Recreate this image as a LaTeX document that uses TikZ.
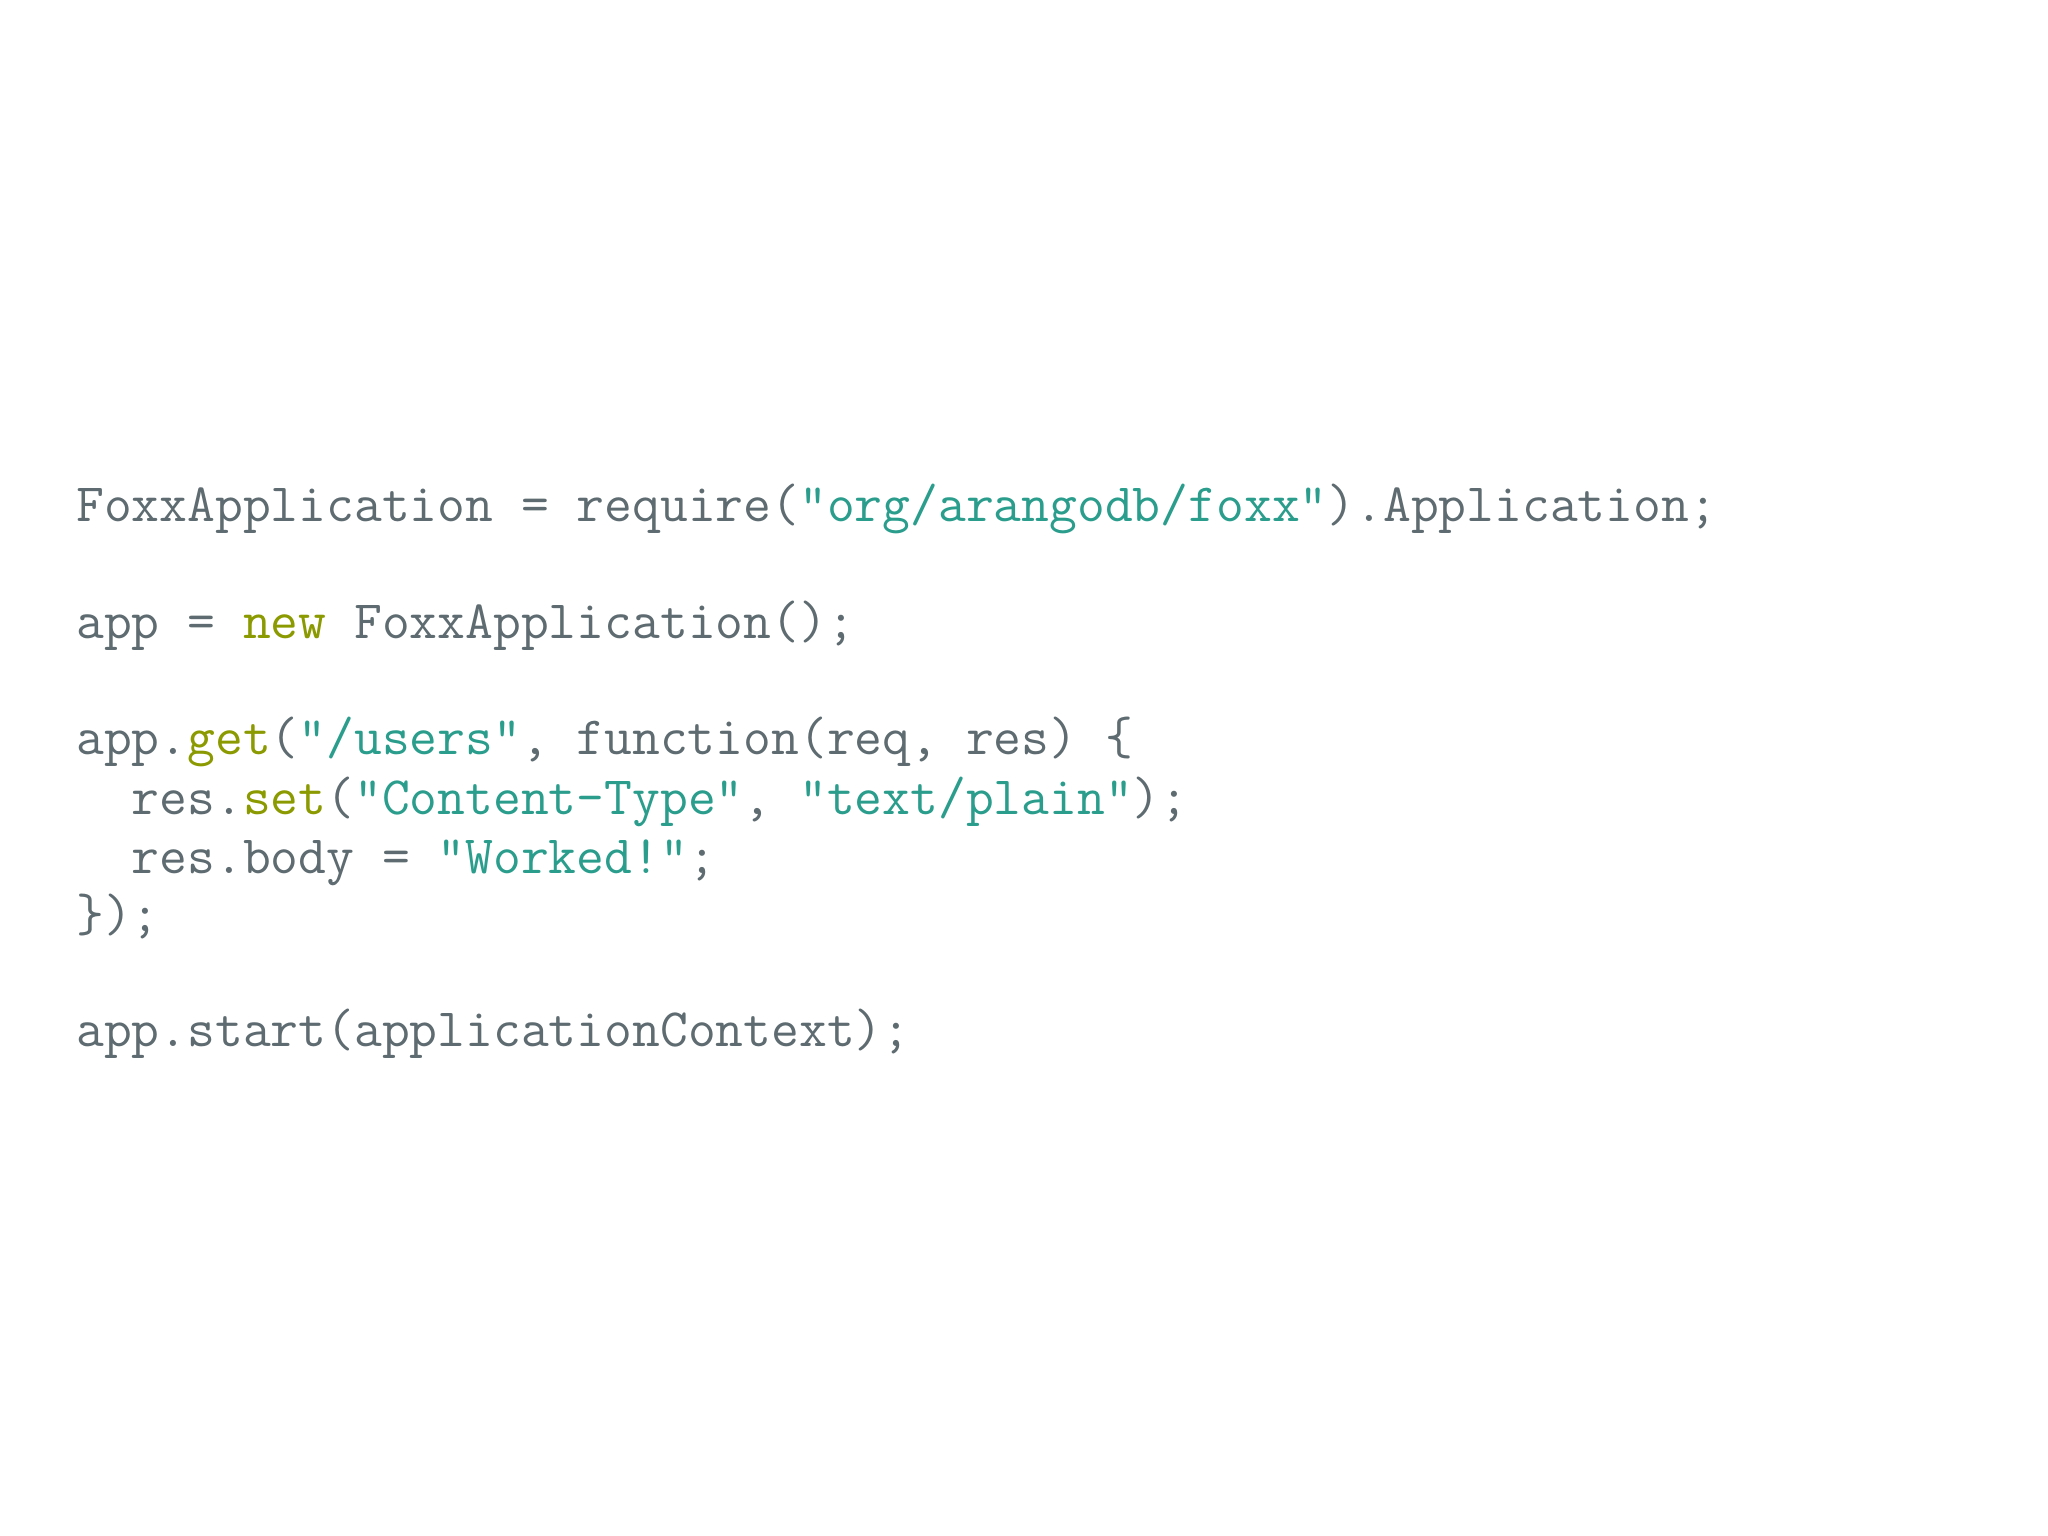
\documentclass[tikz,border=0pt]{standalone}
\usepackage{fontspec}
\definecolor{codegray}{HTML}{5E6B70}
\definecolor{strteal}{HTML}{2A9D8C}
\definecolor{kwolive}{HTML}{8A9A00}
\newcommand{\st}[1]{\textcolor{strteal}{#1}}
\newcommand{\kw}[1]{\textcolor{kwolive}{#1}}
\tikzset{codeline/.style={anchor=base west,inner sep=0pt,text=codegray,font=\ttfamily\fontsize{54}{59}\selectfont}}
\begin{document}
\begin{tikzpicture}[x=1pt,y=1pt]
\useasboundingbox[fill=white] (0,0) rectangle (2048,1536);
\node[codeline] (l1) at (76,1014) {FoxxApplication = require(\st{"org/arangodb/foxx"}).Application;};
\node[codeline] (l2) at (76,897) {app = \kw{new} FoxxApplication();};
\node[codeline] (l3) at (76,781) {app.\kw{get}(\st{"/users"}, function(req, res) \{};
\node[codeline] (l4) at (76,721) {\ \ res.\kw{set}(\st{"Content-Type"}, \st{"text/plain"});};
\node[codeline] (l5) at (76,662) {\ \ res.body = \st{"Worked!"};};
\node[codeline] (l6) at (76,604) {\});};
\node[codeline] (l7) at (76,489) {app.start(applicationContext);};
\end{tikzpicture}
\end{document}
